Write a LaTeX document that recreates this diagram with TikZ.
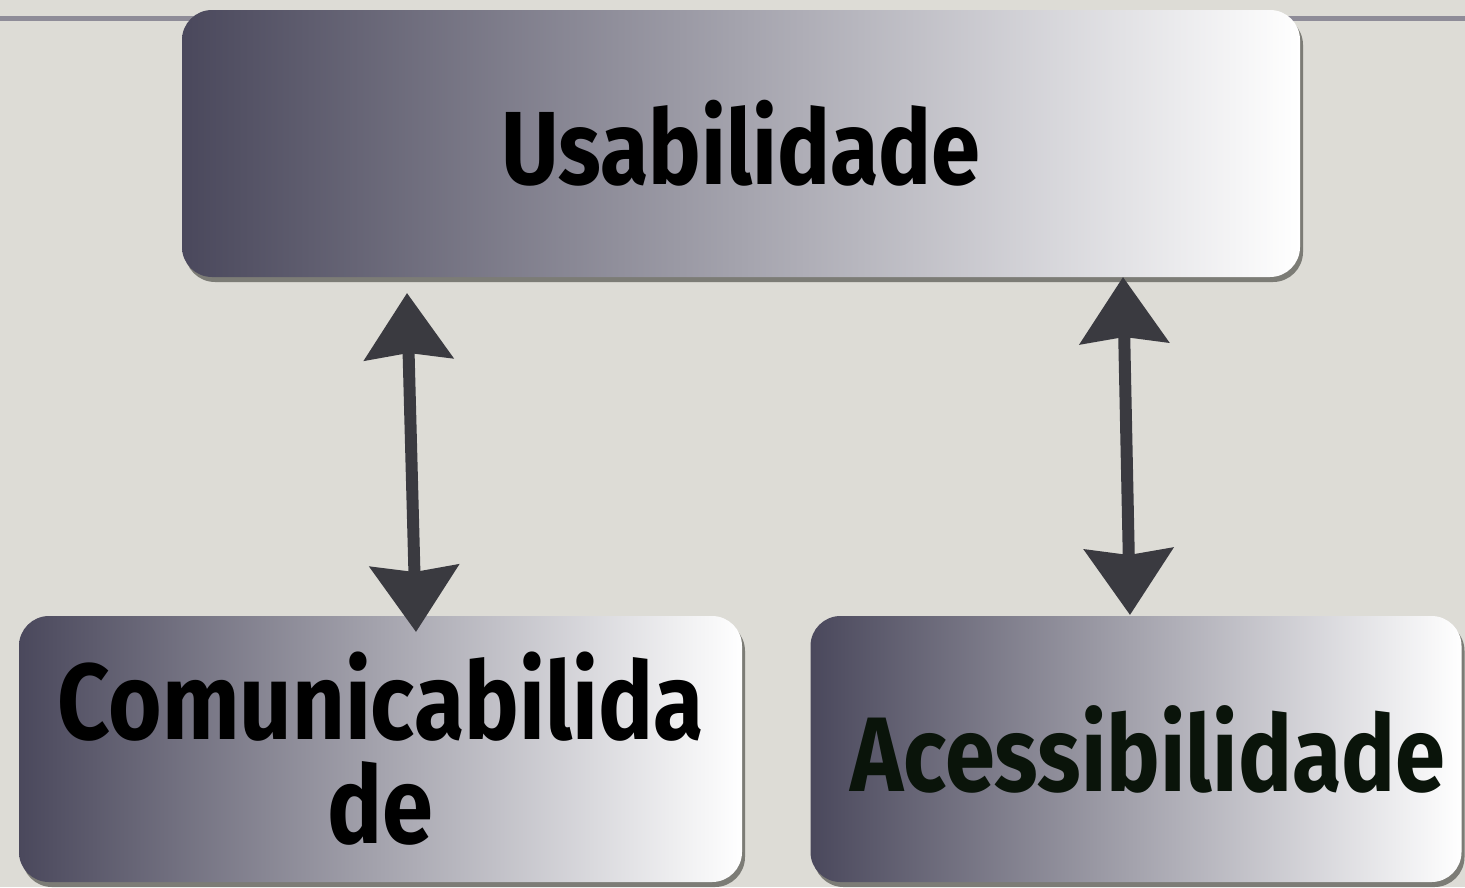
\documentclass[tikz,border=0pt]{standalone}
\usepackage{fontspec}
\newfontfamily\dfont{Fira Sans}[UprightFont=* Bold, FakeStretch=0.85]
\usetikzlibrary{arrows.meta,shadows}
\definecolor{bgc}{HTML}{DDDCD6}
\definecolor{linec}{HTML}{8E8C98}
\definecolor{boxdark}{HTML}{4A485C}
\definecolor{shadc}{HTML}{7C7C76}
\definecolor{arrc}{HTML}{3A3A40}
\definecolor{txtg}{HTML}{0A140A}
\tikzset{
  card/.style={rectangle, rounded corners=30pt, left color=boxdark, right color=white,
    drop shadow={shadow xshift=3pt, shadow yshift=-5pt, fill=shadc, opacity=1},
    font=\dfont\fontsize{108}{112}\selectfont, align=center, inner sep=0pt},
  link/.style={draw=arrc, line width=12pt,
    {Stealth[length=66pt,width=88pt,inset=6pt]}-{Stealth[length=66pt,width=88pt,inset=6pt]}}
}
\begin{document}
\begin{tikzpicture}[x=1pt,y=-1pt]
\useasboundingbox[fill=bgc] (0,0) rectangle (1465,887);
\draw[linec, line width=5pt] (0,18.5) -- (1465,18.5);
\node[card, minimum width=1118pt, minimum height=267pt, font=\dfont\fontsize{104}{108}\selectfont] (U) at (741,143.5) {Usabilidade};
\node[card, minimum width=723pt, minimum height=266pt] (C) at (380.5,749) {Comunicabilida\\[-8pt]de};
\node[card, minimum width=651pt, minimum height=266pt, text=txtg, font=\dfont\fontsize{106}{110}\selectfont] (A) at (1136,749) {\hspace*{24pt}Acessibilidade};
\coordinate (c1) at (407,293);
\coordinate (c2) at (416,632);
\coordinate (a1) at (1123,277);
\coordinate (a2) at (1130,615);
\draw[link] (c1) -- (c2);
\draw[link] (a1) -- (a2);
\end{tikzpicture}
\end{document}
